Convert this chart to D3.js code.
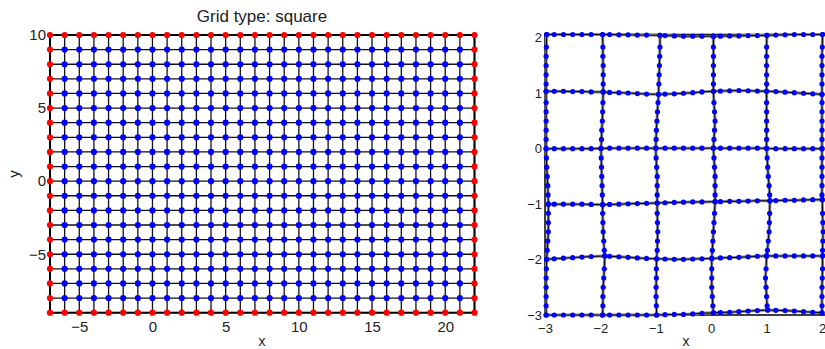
<!DOCTYPE html>
<html>
<head>
<meta charset="utf-8">
<script src="https://cdn.jsdelivr.net/npm/d3@7"></script>
<style>
  body { margin: 0; background: #fff; }
  svg { display: block; font-family: "Liberation Sans", Arial, Helvetica, sans-serif; }
</style>
</head>
<body>
<svg id="chart" width="825" height="349"></svg>
<script>
// ---- left panel: square grid nodes ----
const gridX = [-7, -6, -5, -4, -3, -2, -1, 0, 1, 2, 3, 4, 5, 6, 7, 8, 9, 10, 11, 12, 13, 14, 15, 16, 17, 18, 19, 20, 21, 22];
const gridY = [-9, -8, -7, -6, -5, -4, -3, -2, -1, 0, 1, 2, 3, 4, 5, 6, 7, 8, 9, 10];
const leftTicksX = [-5, 0, 5, 10, 15, 20];
const leftTicksY = [-5, 0, 5, 10];

// ---- right panel: deformed grid ----
const lineLevels = [-3, -2, -1, 0, 1, 2];
// positions of the nodes along each line (every sixth of a unit)
const alongPos = [-3, -2.8333, -2.6667, -2.5, -2.3333, -2.1667,
                  -2, -1.8333, -1.6667, -1.5, -1.3333, -1.1667,
                  -1, -0.8333, -0.6667, -0.5, -0.3333, -0.1667,
                  0, 0.1667, 0.3333, 0.5, 0.6667, 0.8333,
                  1, 1.1667, 1.3333, 1.5, 1.6667, 1.8333, 2];
// vertical offset of each node on the horizontal lines y = -3 .. 2
const hDev = [
  [0,0,0,0,0,0, 0,0,0,0,0,0, 0,0.005,0.01,0.01,0.02,0.03, 0.04,0.045,0.05,0.06,0.07,0.08, 0.09,0.085,0.08,0.07,0.06,0.05, 0.04],
  [0.005,0.015,0.025,0.035,0.045,0.055, 0.065,0.06,0.05,0.04,0.03,0.02, 0.015,0.01,0.005,0.005,0.01,0.015, 0.02,0.03,0.035,0.04,0.05,0.06, 0.065,0.065,0.065,0.065,0.065,0.065, 0.065],
  [0,0,0,0,0,-0.005, -0.01,-0.005,0,0.005,0.01,0.015, 0.02,0.025,0.03,0.035,0.04,0.04, 0.045,0.045,0.05,0.05,0.055,0.06, 0.06,0.065,0.07,0.07,0.075,0.08, 0.08],
  [0,0,0,0,0,0, 0.005,0.01,0.01,0.01,0.01,0.01, 0.01,0.01,0.01,0.01,0.01,0.01, 0.01,0.01,0.01,0.01,0.01,0.01, 0.005,0,0,0,0,0, 0],
  [0.035,0.035,0.035,0.03,0.03,0.025, 0.025,0.015,0.01,0.005,-0.005,-0.015, -0.02,-0.015,-0.01,0,0.01,0.025, 0.035,0.04,0.045,0.05,0.045,0.04, 0.035,0.03,0.02,0.01,0,-0.01, -0.02],
  [0.06,0.06,0.06,0.06,0.06,0.06, 0.06,0.06,0.055,0.055,0.05,0.05, 0.045,0.04,0.035,0.03,0.03,0.03, 0.03,0.03,0.035,0.035,0.04,0.04, 0.045,0.05,0.055,0.06,0.06,0.06, 0.06]
];
// horizontal offset of each node on the vertical lines x = -3 .. 2
const vDev = [
  [0.02,0.02,0.02,0.02,0.02,0.025, 0.03,0.04,0.05,0.06,0.06,0.06, 0.06,0.055,0.05,0.04,0.03,0.025, 0.02,0.02,0.02,0.02,0.02,0.02, 0.02,0.02,0.02,0.02,0.02,0.025, 0.03],
  [0.04,0.045,0.045,0.05,0.06,0.07, 0.08,0.07,0.06,0.05,0.045,0.04, 0.04,0.035,0.03,0.025,0.02,0.015, 0.01,0.02,0.025,0.035,0.04,0.045, 0.05,0.05,0.05,0.05,0.045,0.045, 0.04],
  [0.015,0.01,0.005,0.005,0.01,0.01, 0.015,0.025,0.03,0.035,0.03,0.025, 0.025,0.025,0.025,0.025,0.015,0.005, 0,0.005,0.01,0.02,0.03,0.04, 0.05,0.055,0.06,0.065,0.07,0.075, 0.075],
  [0.04,0.03,0.02,0.01,0.01,0.01, 0.01,0.02,0.03,0.04,0.05,0.06, 0.07,0.07,0.07,0.07,0.06,0.05, 0.04,0.05,0.06,0.07,0.06,0.05, 0.04,0.04,0.04,0.04,0.04,0.04, 0.04],
  [0.02,0.01,0,-0.01,-0.02,-0.01, 0,0.015,0.03,0.045,0.05,0.055, 0.06,0.055,0.045,0.03,0.02,0.01, 0,0,0,0,0,0, 0,0,0,0,0,0, 0.005],
  [0,0,0,0,0.005,0.01, 0.01,0.01,0.015,0.02,0.015,0.01, 0.005,0,0,0,0,0, 0,0,0,0,0,0, 0,0,0,0,0,0.005, 0.01]
];
const rightTicks = [-3, -2, -1, 0, 1, 2];

const svg = d3.select('#chart');

// ================= left panel =================
const xL = d3.scaleLinear().domain([-7, 22]).range([50, 474.5]);
const yL = d3.scaleLinear().domain([-9, 10]).range([312.7, 35]);
const gL = svg.append('g');

gL.append('g')
  .selectAll('line.v')
  .data(gridX)
  .join('line')
  .attr('x1', d => xL(d)).attr('x2', d => xL(d))
  .attr('y1', yL(-9)).attr('y2', yL(10))
  .attr('stroke', '#111').attr('stroke-width', 1.3);

gL.append('g')
  .selectAll('line.h')
  .data(gridY)
  .join('line')
  .attr('y1', d => yL(d)).attr('y2', d => yL(d))
  .attr('x1', xL(-7)).attr('x2', xL(22))
  .attr('stroke', '#111').attr('stroke-width', 1.3);

// frame
gL.append('rect')
  .attr('x', xL(-7)).attr('y', yL(10))
  .attr('width', xL(22) - xL(-7)).attr('height', yL(-9) - yL(10))
  .attr('fill', 'none').attr('stroke', '#000').attr('stroke-width', 2);

const nodes = gridX.flatMap(x => gridY.map(y => ({ x, y })));
const isEdge = d => d.x === -7 || d.x === 22 || d.y === -9 || d.y === 10;

gL.append('g')
  .selectAll('circle')
  .data(nodes)
  .join('circle')
  .attr('cx', d => xL(d.x))
  .attr('cy', d => yL(d.y))
  .attr('r', 3.1)
  .attr('fill', d => isEdge(d) ? '#ff0000' : '#0000ff');

const axLX = gL.append('g').attr('transform', `translate(0,${yL(-9)})`)
  .call(d3.axisBottom(xL).tickValues(leftTicksX).tickSize(0).tickPadding(9)
    .tickFormat(d => d < 0 ? '\u2212' + Math.abs(d) : d));
const axLY = gL.append('g').attr('transform', `translate(${xL(-7)},0)`)
  .call(d3.axisLeft(yL).tickValues(leftTicksY).tickSize(0).tickPadding(4)
    .tickFormat(d => d < 0 ? '\u2212' + Math.abs(d) : d));
[axLX, axLY].forEach(a => {
  a.select('.domain').remove();
  a.selectAll('text').attr('font-size', 15).attr('fill', '#222')
    .attr('font-family', '"Liberation Sans", Arial, sans-serif');
});

gL.append('text')
  .attr('x', 262).attr('y', 22)
  .attr('text-anchor', 'middle')
  .attr('font-size', 17)
  .attr('fill', '#222')
  .text('Grid type: square');

gL.append('text')
  .attr('x', 262).attr('y', 346)
  .attr('text-anchor', 'middle')
  .attr('font-size', 14)
  .attr('fill', '#222')
  .text('x');

gL.append('text')
  .attr('transform', 'translate(19,174) rotate(-90)')
  .attr('text-anchor', 'middle')
  .attr('font-size', 15)
  .attr('fill', '#222')
  .text('y');

// ================= right panel =================
const xR = d3.scaleLinear().domain([-3, 2]).range([545, 822]);
const yR = d3.scaleLinear().domain([-3, 2.06]).range([315, 34.5]);
const gR = svg.append('g');

// horizontal lines: node k on line j; crossing nodes take the vertical line offset too
const hLines = lineLevels.map((yv, j) => alongPos.map((xv, k) => ({
  x: xv + (k % 6 === 0 ? vDev[k / 6][j * 6] : 0),
  y: yv + hDev[j][k]
})));
const vLines = lineLevels.map((xv, i) => alongPos.map((yv, k) => ({
  x: xv + vDev[i][k],
  y: yv + (k % 6 === 0 ? hDev[k / 6][i * 6] : 0)
})));
const allLines = hLines.concat(vLines);

const lineGen = d3.line().x(d => xR(d.x)).y(d => yR(d.y));

// frame (left, top, bottom)
gR.append('path')
  .attr('d', `M${xR(2) + 3},${yR(2.06)}H${xR(-3)}V${yR(-3)}H${xR(2) + 3}`)
  .attr('fill', 'none').attr('stroke', '#000').attr('stroke-width', 1.5);

gR.append('g')
  .selectAll('path')
  .data(allLines)
  .join('path')
  .attr('d', lineGen)
  .attr('fill', 'none')
  .attr('stroke', '#8a8a8a')
  .attr('stroke-width', 3);

gR.append('g')
  .selectAll('path')
  .data(allLines)
  .join('path')
  .attr('d', lineGen)
  .attr('fill', 'none')
  .attr('stroke', '#000')
  .attr('stroke-width', 1);

gR.append('g')
  .selectAll('circle')
  .data(allLines.flat())
  .join('circle')
  .attr('cx', d => xR(d.x))
  .attr('cy', d => yR(d.y))
  .attr('r', 2.6)
  .attr('fill', '#0000ff');

const axRX = gR.append('g').attr('transform', `translate(0,${yR(-3)})`)
  .call(d3.axisBottom(xR).tickValues(rightTicks).tickSize(0).tickPadding(9)
    .tickFormat(d => d < 0 ? '\u2212' + Math.abs(d) : d));
const axRY = gR.append('g').attr('transform', `translate(${xR(-3)},0)`)
  .call(d3.axisLeft(yR).tickValues(rightTicks).tickSize(0).tickPadding(3)
    .tickFormat(d => d < 0 ? '\u2212' + Math.abs(d) : d));
[axRX, axRY].forEach(a => {
  a.select('.domain').remove();
  a.selectAll('text').attr('font-size', 13).attr('fill', '#222')
    .attr('font-family', '"Liberation Sans", Arial, sans-serif');
});

gR.append('text')
  .attr('x', 686).attr('y', 346)
  .attr('text-anchor', 'middle')
  .attr('font-size', 14)
  .attr('fill', '#222')
  .text('x');
</script>
</body>
</html>
